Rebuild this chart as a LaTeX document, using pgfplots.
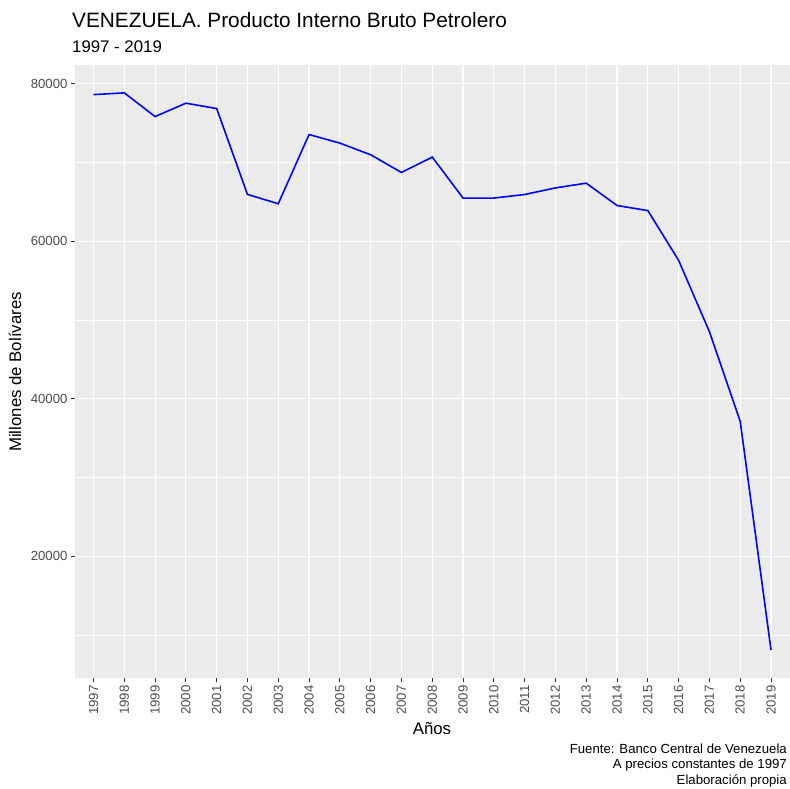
\documentclass[border=0pt]{standalone}
\usepackage{fontspec}
\setmainfont{Liberation Sans}
\usepackage{pgfplots}
\pgfplotsset{compat=1.18}
\definecolor{ggbg}{HTML}{EBEBEB}
\definecolor{gg30}{HTML}{4D4D4D}
\definecolor{gg20}{HTML}{333333}

\begin{document}
\begin{tikzpicture}[x=1pt,y=1pt]
% page = 790 x 788, panel from (75,110) to (789.5,723)
\path[use as bounding box] (0,0) rectangle (790,788);

\begin{axis}[
    at={(75pt,110pt)}, anchor=south west,
    scale only axis, width=714.5pt, height=613pt,
    xmin=1996.4, xmax=2019.6,
    ymin=4540, ymax=82400,
    xtick={1997,...,2019},
    ytick={20000,40000,60000,80000},
    minor ytick={10000,30000,50000,70000},
    xmajorgrids, ymajorgrids, yminorgrids,
    major grid style={white, line width=1.1pt},
    minor grid style={white, line width=0.55pt},
    axis background/.style={fill=ggbg},
    axis line style={draw=none},
    tick align=outside, xtick pos=bottom, ytick pos=left,
    major tick length=4pt, minor tick length=0pt,
    tick style={color=gg20, line width=0.8pt},
    scaled y ticks=false,
    /pgf/number format/1000 sep={},
    /pgf/number format/assume math mode=true,
    xticklabel style={rotate=90, anchor=east, color=gg30,
        font=\fontsize{13.2}{14}\selectfont},
    yticklabel style={anchor=east, color=gg30,
        font=\fontsize{13.2}{14}\selectfont},
]
\addplot[blue, line width=1.6pt] coordinates {
    (1997,78640) (1998,78860) (1999,75850) (2000,77550) (2001,76870)
    (2002,65960) (2003,64780) (2004,73570) (2005,72480) (2006,71000)
    (2007,68750) (2008,70700) (2009,65500) (2010,65500) (2011,65950)
    (2012,66790) (2013,67390) (2014,64550) (2015,63910) (2016,57580)
    (2017,48520) (2018,37130) (2019,8080)
};
\end{axis}

% titles
\node[anchor=base west, inner sep=0pt, font=\fontsize{20.8}{23}\selectfont]
    at (72,760) {VENEZUELA. Producto Interno Bruto Petrolero};
\node[anchor=base west, inner sep=0pt, font=\fontsize{16.8}{18}\selectfont]
    at (72,735) {1997 - 2019};
% axis titles
\node[anchor=base, inner sep=0pt, font=\fontsize{16.8}{18}\selectfont]
    at (432,54) {Años};
\node[anchor=base, inner sep=0pt, rotate=90, font=\fontsize{16.8}{18}\selectfont]
    at (21,416) {Millones de Bolívares};
% caption
\node[anchor=base east, inner sep=0pt, font=\fontsize{13.2}{16.5}\selectfont]
    at (787,35) {Fuente: Banco Central de Venezuela};
\node[anchor=base east, inner sep=0pt, font=\fontsize{13.2}{16.5}\selectfont]
    at (787,19.5) {A precios constantes de 1997};
\node[anchor=base east, inner sep=0pt, font=\fontsize{13.2}{16.5}\selectfont]
    at (787,4) {Elaboración propia};
\end{tikzpicture}
\end{document}
